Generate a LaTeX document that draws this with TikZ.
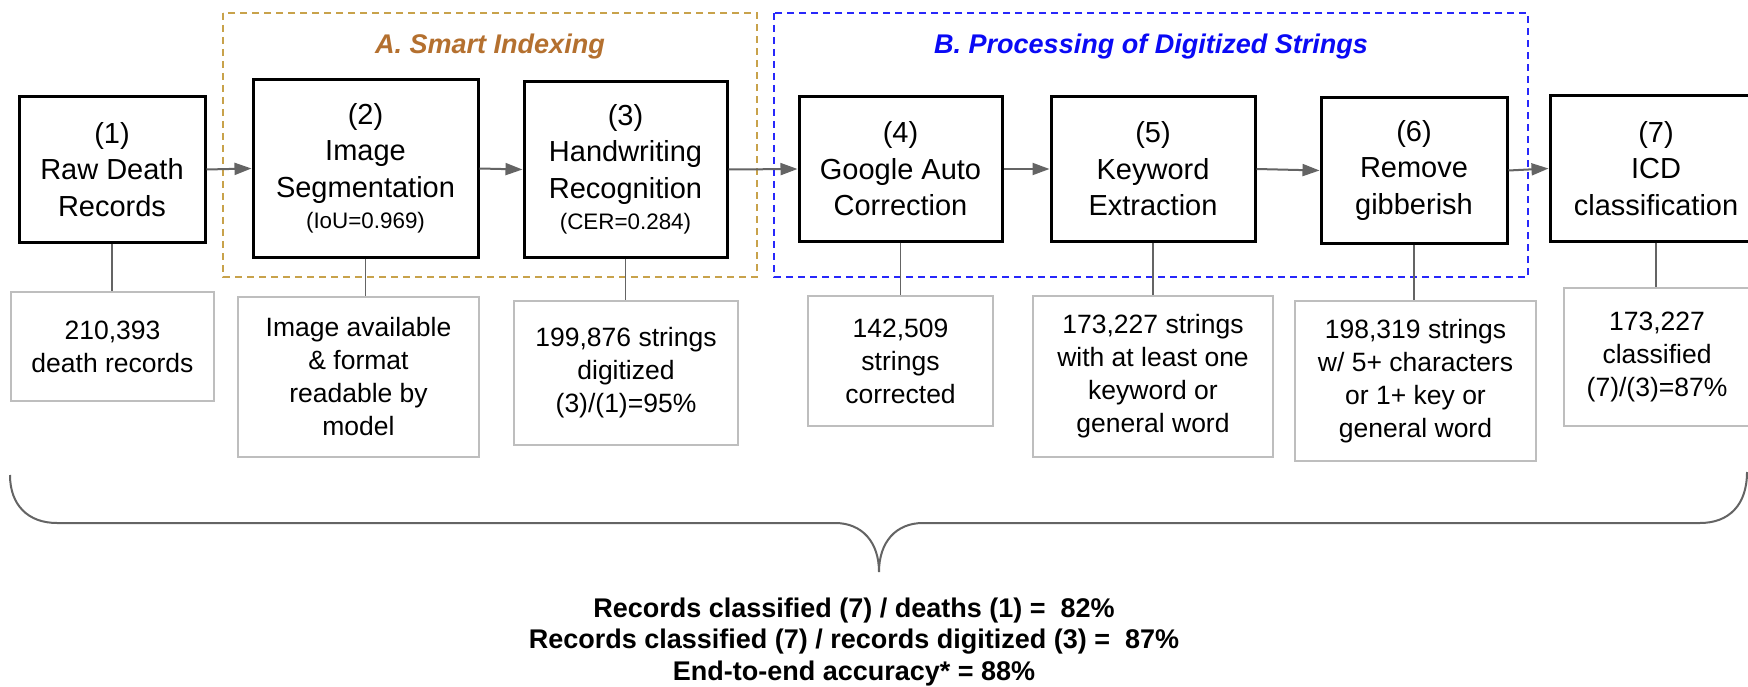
\documentclass[tikz,border=0pt]{standalone}
\usepackage{fontspec}
\setmainfont{Liberation Sans}
\usetikzlibrary{arrows.meta}
\definecolor{lowgray}{RGB}{190,190,190}
\definecolor{linegray}{RGB}{100,100,100}
\definecolor{goldA}{RGB}{200,162,75}
\definecolor{blueB}{RGB}{40,40,250}
\definecolor{titleA}{RGB}{180,112,47}
\definecolor{titleB}{RGB}{10,10,245}
\tikzset{
  mainbox/.style={draw=black, line width=3pt, fill=white, align=center, inner sep=0pt,
    font=\fontsize{29}{36.5}\selectfont},
  lowbox/.style={draw=lowgray, line width=2pt, fill=white, align=center, inner sep=0pt,
    font=\fontsize{26.5}{33}\selectfont},
  arr/.style={draw=linegray, line width=2pt, -{Triangle[length=17pt,width=12pt]}},
  conn/.style={draw=linegray, line width=1.8pt},
  groupA/.style={draw=goldA, line width=2pt, dash pattern=on 7pt off 5pt},
  groupB/.style={draw=blueB, line width=2pt, dash pattern=on 7pt off 5pt},
  gtitle/.style={font=\fontsize{27}{32}\selectfont\bfseries\itshape, inner sep=0pt},
  brace/.style={draw=linegray, line width=2pt},
  summary/.style={align=center, inner sep=0pt, font=\fontsize{27}{31.5}\selectfont\bfseries}
}
\newcommand{\smallline}[1]{{\fontsize{22.4}{28}\selectfont #1}}
\begin{document}
\begin{tikzpicture}[x=1pt, y=-1pt]
\clip (0,0) rectangle (1748,687);
\fill[white] (0,0) rectangle (1748,687);

% group frames
\draw[groupA] (223,13) rectangle (757,277);
\draw[groupB] (774,13) rectangle (1528,277);
\node[gtitle, text=titleA] (tA) at (490,47) {A. Smart Indexing};
\node[gtitle, text=titleB] (tB) at (1151,47) {B. Processing of Digitized Strings};

% main boxes
\node[mainbox, minimum width=186pt, minimum height=145pt] (b1) at (112,169.5) {(1)\\Raw Death\\Records};
\node[mainbox, minimum width=225pt, minimum height=177pt] (b2) at (365.5,168.5) {(2)\\Image\\Segmentation\\[-5pt]\smallline{(IoU=0.969)}};
\node[mainbox, minimum width=203pt, minimum height=175pt] (b3) at (625.5,169.5) {(3)\\Handwriting\\Recognition\\[-5pt]\smallline{(CER=0.284)}};
\node[mainbox, minimum width=203pt, minimum height=144pt] (b4) at (900.5,169) {(4)\\Google Auto\\Correction};
\node[mainbox, minimum width=204pt, minimum height=144pt] (b5) at (1153,169) {(5)\\Keyword\\Extraction};
\node[mainbox, minimum width=186pt, minimum height=145pt] (b6) at (1414,170.5) {(6)\\Remove\\gibberish};
\node[mainbox, minimum width=212pt, minimum height=145pt] (b7) at (1656,168.5) {(7)\\ICD\\classification};

% lower boxes
\node[lowbox, minimum width=203pt, minimum height=109pt] (l1) at (112.5,346.5) {210,393\\death records};
\node[lowbox, minimum width=241pt, minimum height=160pt] (l2) at (358.5,377) {Image available\\\& format\\readable by\\model};
\node[lowbox, minimum width=224pt, minimum height=144pt] (l3) at (626,373) {199,876 strings\\digitized\\(3)/(1)=95\%};
\node[lowbox, minimum width=185pt, minimum height=130pt] (l4) at (900.5,361) {142,509\\strings\\corrected};
\node[lowbox, minimum width=240pt, minimum height=161pt] (l5) at (1153,376.5) {173,227 strings\\with at least one\\keyword or\\general word};
\node[lowbox, minimum width=241pt, minimum height=160pt] (l6) at (1415.5,381) {198,319 strings\\w/ 5+ characters\\or 1+ key or\\general word};
\node[lowbox, minimum width=186pt, minimum height=138pt] (l7) at (1657,357) {173,227\\classified\\(7)/(3)=87\%};

% arrows between main boxes
\draw[arr] (b1.east) -- (b2.west);
\draw[arr] (b2.east) -- (b3.west);
\draw[arr] (b3.east) -- (b4.west);
\draw[arr] (b4.east) -- (b5.west);
\draw[arr] (b5.east) -- (b6.west);
\draw[arr] (b6.east) -- (b7.west);

% vertical connectors
\foreach \i in {1,...,7} {
  \draw[conn] (b\i.south) -- (b\i.south |- l\i.north);
}

% brace
\coordinate (brL) at (10,475);
\coordinate (brR) at (1747,472);
\coordinate (brTip) at (879,572);
\draw[brace] (brL) .. controls (10,505) and (28,523) .. (57,523)
  -- (835,523) .. controls (862,523) and (879,542) .. (brTip)
  .. controls (879,542) and (896,523) .. (923,523)
  -- (1700,523) .. controls (1729,523) and (1747,505) .. (brR);

% summary text
\node[summary] (sum) at (854,642) {Records classified (7) / deaths (1) =~ 82\%\\Records classified (7) / records digitized (3) =~ 87\%\\End-to-end accuracy* = 88\%};
\end{tikzpicture}
\end{document}
